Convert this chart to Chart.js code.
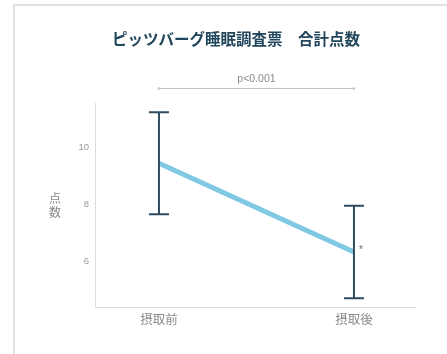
<!DOCTYPE html>
<html lang="ja">
<head>
<meta charset="utf-8">
<title>ピッツバーグ睡眠調査票 合計点数</title>
<script src="https://cdn.jsdelivr.net/npm/chart.js@4"></script>
<style>
  html, body { margin: 0; padding: 0; background: #fff; overflow: hidden; }
  #frame {
    position: absolute; left: 13px; top: 4px; right: -10px; bottom: -10px;
    border-top: 2px solid #e2e2e2; border-left: 2px solid #e2e2e2;
  }
  #wrap { position: absolute; left: 0; top: 0; width: 447px; height: 354px; }
</style>
</head>
<body>
<div id="frame"></div>
<div id="wrap"><canvas id="psqiChart"></canvas></div>
<script>
const categories = ['摂取前', '摂取後'];
const means = [9.44, 6.33];
const sds = [1.79, 1.62];
const yTicks = [6, 8, 10];
const pLabel = 'p<0.001';
const chartTitle = 'ピッツバーグ睡眠調査票　合計点数';
const yTitle = ['点', '数'];

const FONT = '"Liberation Sans", "Noto Sans CJK JP", sans-serif';
const CJK = '"Noto Sans CJK JP", sans-serif';

// error bars, significance bracket, title and stacked y title
const annotations = {
  id: 'annotations',
  afterDatasetsDraw(chart) {
    const { ctx, scales: { x, y } } = chart;
    ctx.save();
    ctx.strokeStyle = '#2f4b5d';
    ctx.lineWidth = 2;
    means.forEach((m, i) => {
      const px = x.getPixelForValue(i);
      const top = y.getPixelForValue(m + sds[i]);
      const bot = y.getPixelForValue(m - sds[i]);
      ctx.beginPath();
      ctx.moveTo(px, top); ctx.lineTo(px, bot);
      ctx.moveTo(px - 10, top); ctx.lineTo(px + 10, top);
      ctx.moveTo(px - 10, bot); ctx.lineTo(px + 10, bot);
      ctx.stroke();
    });

    // asterisk beside the post-intake mean
    ctx.fillStyle = '#666';
    ctx.font = '10px ' + FONT;
    ctx.textAlign = 'left';
    ctx.textBaseline = 'middle';
    ctx.fillText('*', x.getPixelForValue(1) + 5, y.getPixelForValue(means[1]) - 2);

    // bracket between the two time points
    const x0 = x.getPixelForValue(0), x1 = x.getPixelForValue(1);
    const by = 88;
    ctx.strokeStyle = '#c4c4c4';
    ctx.lineWidth = 1;
    ctx.beginPath();
    ctx.moveTo(x0, by + 0.5); ctx.lineTo(x1, by + 0.5);
    ctx.stroke();
    ctx.fillStyle = '#c4c4c4';
    [x0, x1].forEach(px => { ctx.beginPath(); ctx.arc(px, by + 0.5, 1.3, 0, Math.PI * 2); ctx.fill(); });
    ctx.fillStyle = '#8a8a8a';
    ctx.font = '10.5px ' + FONT;
    ctx.textAlign = 'center';
    ctx.fillText(pLabel, (x0 + x1) / 2, 79);

    // title
    ctx.fillStyle = '#22465c';
    ctx.font = 'bold 15.5px ' + CJK;
    ctx.fillText(chartTitle, 236, 39);

    // y axis title, one character per line
    ctx.fillStyle = '#8a8a8a';
    ctx.font = '12px ' + CJK;
    yTitle.forEach((ch, k) => ctx.fillText(ch, 55, 198 + k * 14));
    ctx.restore();
  }
};

new Chart(document.getElementById('psqiChart'), {
  type: 'line',
  data: {
    datasets: [{
      data: means.map((m, i) => ({ x: i, y: m })),
      borderColor: '#80c9e4',
      borderWidth: 5,
      pointRadius: 0,
      borderCapStyle: 'butt',
      fill: false
    }]
  },
  options: {
    responsive: true,
    maintainAspectRatio: false,
    animation: false,
    layout: { padding: { top: 103, right: 32, bottom: 0, left: 0 } },
    plugins: {
      legend: { display: false },
      tooltip: { enabled: false }
    },
    scales: {
      x: {
        type: 'linear',
        min: -0.328,
        max: 1.313,
        grid: { display: false, drawTicks: false },
        border: { display: true, color: '#dcdcdc', width: 1 },
        afterBuildTicks: s => { s.ticks = categories.map((c, i) => ({ value: i })); },
        afterFit: s => { s.height = 47; },
        ticks: {
          padding: 5,
          color: '#8a8a8a',
          font: { family: CJK, size: 12.5 },
          callback: v => categories[v]
        }
      },
      y: {
        min: 4.4,
        max: 11.55,
        grid: { display: false, drawTicks: false },
        border: { display: true, color: '#dcdcdc', width: 1 },
        afterBuildTicks: s => { s.ticks = yTicks.map(v => ({ value: v })); },
        afterFit: s => { s.width = 95; },
        ticks: {
          padding: 6,
          color: '#999',
          font: { family: FONT, size: 9.5 }
        }
      }
    }
  },
  plugins: [annotations]
});
</script>
</body>
</html>
